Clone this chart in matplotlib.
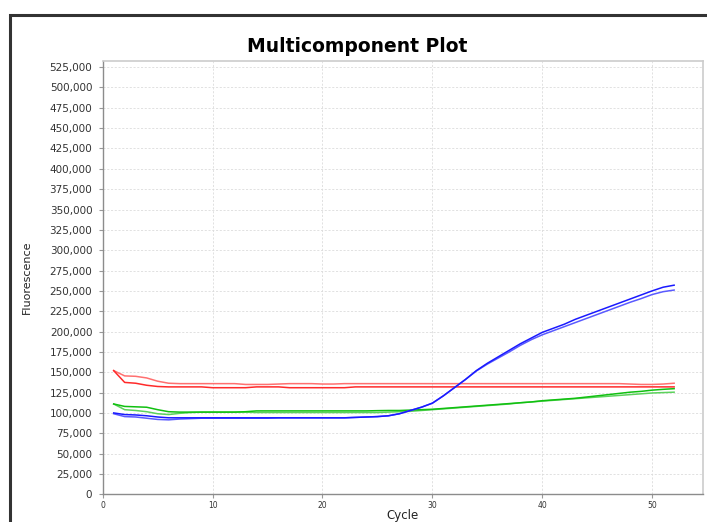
import matplotlib

matplotlib.use("Agg")
import matplotlib.pyplot as plt
from matplotlib.patches import Rectangle
from matplotlib.ticker import FuncFormatter, MultipleLocator

# Cycle numbers
cycles = list(range(1, 53))

# Red pair
red_upper = [152000, 145500, 145000, 143000, 139000, 136500, 136000, 136000, 136000, 136000,
             136000, 136000, 135000, 135000, 135000, 135500, 136000, 136000, 136000, 135500,
             135500, 136000, 136000, 136000, 136000, 136000, 136000, 136000, 136000, 136000,
             136000, 136000, 136000, 136000, 136000, 136000, 136000, 136000, 136000, 136000,
             136000, 136000, 136000, 136000, 136000, 136000, 136000, 135500, 135000, 135000,
             135500, 136500]
red_lower = [152000, 137500, 136500, 134000, 132500, 132000, 132000, 132000, 132000, 131000,
             131000, 131000, 131000, 132000, 132000, 132000, 131000, 131000, 131000, 131000,
             131000, 131000, 132000, 132000, 132000, 132000, 132000, 132000, 132000, 132000,
             132000, 132000, 132000, 132000, 132000, 132000, 132000, 132000, 132000, 132000,
             132000, 132000, 132000, 132000, 132000, 132000, 132000, 132000, 132000, 132000,
             132000, 132000]

# Green pair
green_a = [111000, 108000, 107500, 107000, 104000, 101500, 101000, 101000, 101000, 101000,
           101000, 101000, 101500, 102500, 102500, 102500, 102500, 102500, 102500, 102500,
           102500, 102500, 102500, 102500, 102800, 103000, 103000, 103500, 104000, 104500,
           105500, 106500, 107500, 108500, 109500, 110500, 111500, 112500, 113500, 115000,
           116000, 117000, 118000, 119500, 121000, 122500, 124000, 125500, 126500, 128000,
           129000, 129800]
green_b = [111000, 104000, 103000, 101500, 99000, 98000, 99500, 100500, 101000, 101000,
           101000, 101000, 101000, 100500, 100500, 100500, 100500, 100500, 100500, 100500,
           100500, 100500, 100500, 100500, 100500, 101000, 101500, 102000, 103000, 104000,
           105000, 106000, 107000, 108000, 109000, 110000, 111000, 112500, 113500, 114500,
           115500, 116500, 117500, 118500, 119500, 120500, 121500, 122500, 123500, 124500,
           125000, 125500]

# Blue pair
blue_a = [100000, 98000, 97500, 96500, 95000, 94000, 94000, 94000, 94000, 94000,
          94000, 94000, 94000, 94000, 94000, 94000, 94000, 94000, 94000, 94000,
          94000, 94000, 94500, 95000, 95500, 96500, 99000, 103000, 107000, 112000,
          121000, 131000, 141000, 152000, 161000, 169000, 177000, 185000, 192000, 199000,
          204000, 209000, 215000, 220000, 225000, 230000, 235000, 240000, 245000, 250000,
          254500, 257000]
blue_b = [99000, 95500, 95000, 93500, 92000, 91500, 92500, 93000, 93500, 93500,
          93500, 93500, 93500, 93500, 93500, 94000, 94000, 94000, 94000, 94000,
          94000, 94000, 94500, 95000, 95500, 96500, 99000, 103000, 107000, 112000,
          121000, 131000, 141000, 151500, 160000, 167500, 175000, 183000, 190000, 196000,
          201000, 206000, 211000, 216000, 221000, 226000, 231000, 236000, 240500, 245500,
          249000, 251000]

W, H = 707, 522
fig = plt.figure(figsize=(W / 100, H / 100), dpi=100)
fig.patch.set_facecolor("white")

# dark outer frame, running off the right and bottom edges
fig.patches.append(
    Rectangle((9.5 / W, -0.1), 1.2, 1.1 - 14.5 / H, transform=fig.transFigure,
              fill=False, edgecolor="#333333", linewidth=2.2, zorder=0)
)

ax = fig.add_axes([102.7 / W, 1 - 494.3 / H, 600 / W, 433.3 / H])

ax.plot(cycles, red_upper, color="#ff7070", lw=1.1)
ax.plot(cycles, red_lower, color="#ff2a2a", lw=1.1)
ax.plot(cycles, green_b, color="#5cd25c", lw=1.1)
ax.plot(cycles, green_a, color="#10c010", lw=1.1)
ax.plot(cycles, blue_b, color="#5a5aff", lw=1.1)
ax.plot(cycles, blue_a, color="#1a1aff", lw=1.1)

ax.set_xlim(0, 54.6)
ax.set_ylim(0, 532500)
ax.xaxis.set_major_locator(MultipleLocator(10))
ax.yaxis.set_major_locator(MultipleLocator(25000))
ax.yaxis.set_major_formatter(FuncFormatter(lambda v, p: f"{int(v):,}"))

ax.tick_params(axis="y", length=3, width=0.8, color="#999999", pad=4.5,
               labelsize=7.5, labelcolor="#333333")
ax.tick_params(axis="x", length=3, width=0.8, color="#999999", pad=2,
               labelsize=5.5, labelcolor="#333333")

ax.grid(True, color="#dcdcdc", linestyle=(0, (2.5, 2)), linewidth=0.6)
ax.set_axisbelow(True)

for side in ["left", "bottom"]:
    ax.spines[side].set_color("#8c8c8c")
    ax.spines[side].set_linewidth(1.0)
for side in ["top", "right"]:
    ax.spines[side].set_color("#cccccc")
    ax.spines[side].set_linewidth(1.2)

fig.text(357 / W, 1 - 46 / H, "Multicomponent Plot", ha="center", va="center",
         fontsize=13.5, fontweight="bold", color="black")

ax.set_ylabel("Fluorescence", fontsize=8, color="#222222", va="center")
ax.yaxis.set_label_coords((27 - 102.7) / 600, 0.5)
ax.set_xlabel("Cycle", fontsize=8.5, color="#222222", va="top")
ax.xaxis.set_label_coords(0.5, -14.5 / 433.3)

fig.savefig("out.png", dpi=100, facecolor="white")
plt.close(fig)
